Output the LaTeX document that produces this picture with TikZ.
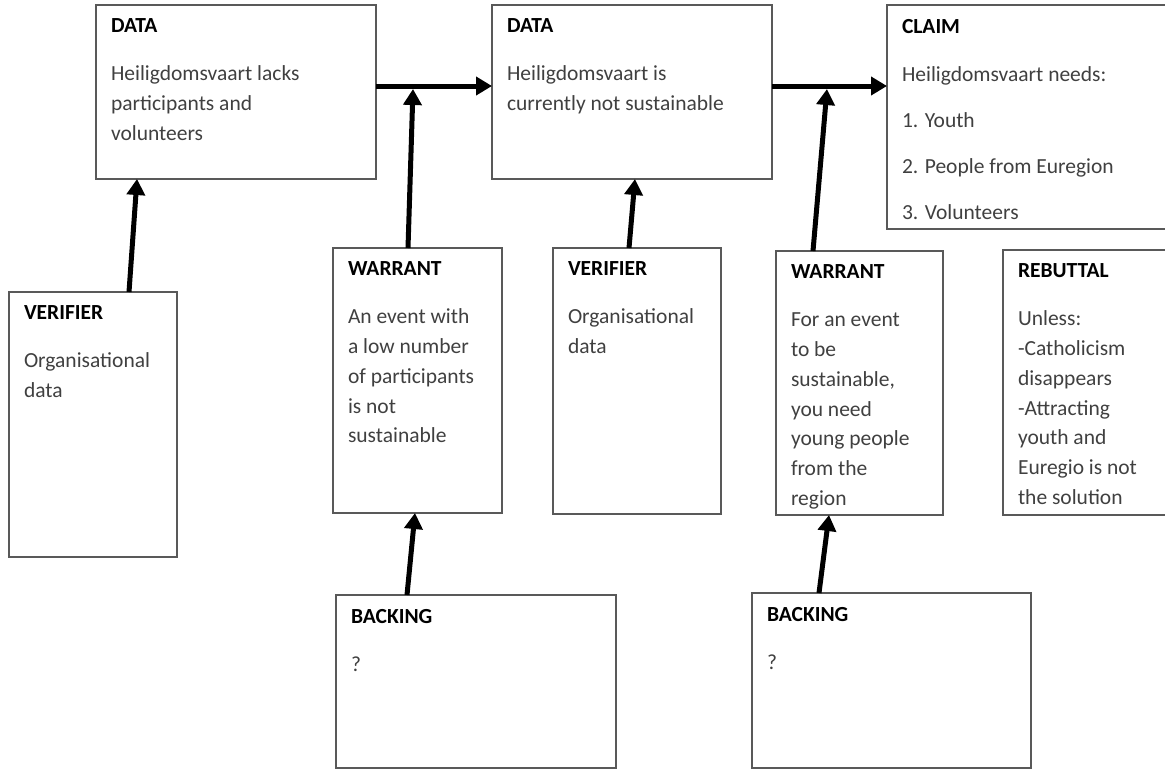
\documentclass[tikz,border=0pt]{standalone}
\usepackage{fontspec}
\setmainfont{Carlito}
\usepackage{tikz}
\usetikzlibrary{arrows.meta}
\definecolor{bodygray}{gray}{0.25}
\tikzstyle{argbox} = [rectangle, draw=black!65, line width=1.3pt, anchor=north west,
                      inner xsep=15pt, inner ysep=14pt, outer sep=0pt,
                      font=\fontsize{21.5}{29.7}\selectfont]
\tikzstyle{arrow} = [line width=5pt, -{Triangle[length=16pt, width=18pt]}, black]
% width, height, title, body
\newcommand{\argtext}[4]{\parbox[t][#2][t]{#1}{\raggedright\textbf{#3}\par\vspace{18.3pt}\textcolor{bodygray}{#4}}}

\begin{document}
\begin{tikzpicture}[x=1pt, y=-1pt]
    \useasboundingbox (0,0) rectangle (1165,769);

    % Top row: data and claim
    \node[argbox] (data1) at (96,5) {\argtext{250pt}{146pt}{DATA}{Heiligdomsvaart lacks\\participants and\\volunteers}};
    \node[argbox] (data2) at (492,5) {\argtext{250pt}{146pt}{DATA}{Heiligdomsvaart is\\currently not sustainable}};
    \node[argbox] (claim) at (887,5) {\argtext{263pt}{196pt}{CLAIM}{Heiligdomsvaart needs:\\[16.3pt]1. Youth\\[16.3pt]2. People from Euregion\\[16.3pt]3. Volunteers}};

    % Middle row: verifiers, warrants, rebuttal
    \node[argbox] (ver1) at (9,292) {\argtext{138pt}{237pt}{VERIFIER}{Organisational\\data}};
    \node[argbox] (war1) at (333,248) {\argtext{139pt}{237pt}{WARRANT}{An event with\\a low number\\of participants\\is not\\sustainable}};
    \node[argbox] (ver2) at (553,248) {\argtext{138pt}{238pt}{VERIFIER}{Organisational\\data}};
    \node[argbox] (war2) at (776,251) {\argtext{137pt}{236pt}{WARRANT}{For an event\\to be\\sustainable,\\you need\\young people\\from the\\region}};
    \node[argbox] (rebut) at (1003,250) {\argtext{147pt}{237pt}{REBUTTAL}{Unless:\\-Catholicism\\disappears\\-Attracting\\youth and\\Euregio is not\\the solution}};

    % Bottom row: backing
    \node[argbox] (back1) at (336,595) {\argtext{250pt}{145pt}{BACKING}{?}};
    \node[argbox] (back2) at (752,593) {\argtext{249pt}{147pt}{BACKING}{?}};

    % Arrows along the top
    \draw[arrow] ([yshift=6pt]data1.east) -- ([yshift=6pt]data2.west);
    \draw[arrow] ([yshift=6pt]data2.east) -- ([yshift=31pt]claim.west);

    % Warrants join the top arrows
    \coordinate (join1) at (413,89);
    \coordinate (join2) at (827,89);
    \draw[arrow] ([xshift=-9.5pt]war1.north) -- (join1);
    \draw[arrow] ([xshift=-46.5pt]war2.north) -- (join2);

    % Verifiers up to data
    \draw[arrow] ([xshift=36pt]ver1.north) -- ([xshift=-99pt]data1.south);
    \draw[arrow] ([xshift=-8pt]ver2.north) -- ([xshift=3pt]data2.south);

    % Backing up to warrants
    \draw[arrow] ([xshift=-69pt]back1.north) -- ([xshift=-2.5pt]war1.south);
    \draw[arrow] ([xshift=-72.5pt]back2.north) -- ([xshift=-30.5pt]war2.south);
\end{tikzpicture}
\end{document}
